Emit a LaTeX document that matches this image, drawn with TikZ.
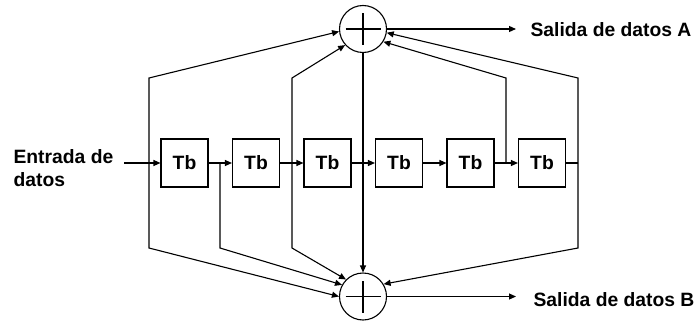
\documentclass[tikz,border=0pt]{standalone}
\usepackage{fontspec}
\setmainfont{Liberation Sans}
\usetikzlibrary{arrows.meta}
\begin{document}
\begin{tikzpicture}[x=1pt,y=-1pt,
  line width=1.1pt,
  every node/.style={font=\fontsize{19.3}{23}\selectfont\bfseries},
  tb/.style={draw, minimum width=47pt, minimum height=48pt, inner sep=0pt},
  sum/.style={draw, circle, minimum size=47pt, inner sep=0pt},
  arr/.style={-{Triangle[length=7pt,width=6pt]}},
  lbl/.style={anchor=west, inner sep=0pt}]
\useasboundingbox (0,0) rectangle (695,321);
% delay boxes
\node[tb] (b1) at (184.5,163) {Tb};
\node[tb] (b2) at (256,163) {Tb};
\node[tb] (b3) at (327.5,163) {Tb};
\node[tb] (b4) at (399,163) {Tb};
\node[tb] (b5) at (470.5,163) {Tb};
\node[tb] (b6) at (542,163) {Tb};
% adders
\node[sum] (sa) at (363,29) {};
\node[sum] (sb) at (363,296.5) {};
\draw ([xshift=-17.5pt]sa.center) -- ([xshift=17.5pt]sa.center);
\draw ([yshift=-16pt]sa.center) -- ([yshift=16pt]sa.center);
\draw ([xshift=-17.5pt]sb.center) -- ([xshift=17.5pt]sb.center);
\draw ([yshift=-16pt]sb.center) -- ([yshift=16pt]sb.center);
% coordinates
\coordinate (in) at (124,163);
\coordinate (t0) at (149,163);
\coordinate (t1) at (220,163);
\coordinate (t2) at (292,163);
\coordinate (t5) at (506,163);
\coordinate (t6) at (578,163);
\coordinate (u0) at (149,78);
\coordinate (u2) at (292,78);
\coordinate (u5) at (506,78);
\coordinate (u6) at (578,78);
\coordinate (d0) at (149,248);
\coordinate (d1) at (220,248);
\coordinate (d2) at (292,248);
\coordinate (d6) at (578,248);
\coordinate (oa) at (516,29);
\coordinate (ob) at (516,296.5);
% labels
\node[anchor=west, align=left, inner sep=0pt] (lin) at (13,168) {Entrada de\\datos};
\node[lbl] (la) at (530,30) {Salida de datos A};
\node[lbl] (lb) at (533,300) {Salida de datos B};
% shift register chain
\draw[arr] (in) -- (b1);
\draw[arr] (b1) -- (b2);
\draw[arr] (b2) -- (b3);
\draw[arr] (b3) -- (b4);
\draw[arr] (b4) -- (b5);
\draw[arr] (b5) -- (b6);
\draw (b6.east) -- (t6);
% taps to adder A
\draw[arr] (t0) -- (u0) -- (sa.186);
\draw[arr] (t2) -- (u2) -- (sa.222);
\draw[arr] (t5) -- (u5) -- (sa.328);
\draw[arr] (t6) -- (u6) -- (sa.351);
% taps to adder B
\draw[arr] (t0) -- (d0) -- (sb.180);
\draw[arr] (t1) -- (d1) -- (sb.151);
\draw[arr] (t2) -- (d2) -- (sb.135);
\draw[arr] (sa.south) -- (sb.north);
\draw[arr] (t6) -- (d6) -- (sb.31);
% outputs
\draw[arr] (sa.east) -- (oa);
\draw[arr] (sb.east) -- (ob);
\end{tikzpicture}
\end{document}
